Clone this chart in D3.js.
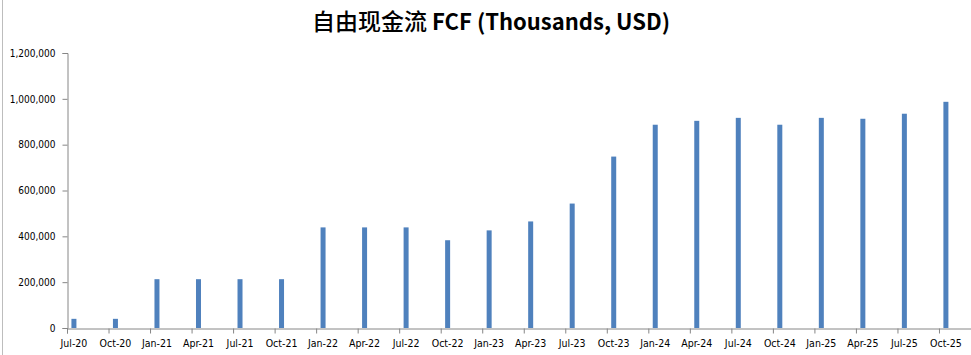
<!DOCTYPE html>
<html>
<head>
<meta charset="utf-8">
<script src="https://cdn.jsdelivr.net/npm/d3@7"></script>
<style>
  html, body { margin: 0; padding: 0; background: #fff; }
  svg { display: block; }
</style>
</head>
<body>
<svg id="chart" width="971" height="355"></svg>
<script>
const categories = ["Jul-20","Oct-20","Jan-21","Apr-21","Jul-21","Oct-21","Jan-22","Apr-22","Jul-22","Oct-22","Jan-23","Apr-23","Jul-23","Oct-23","Jan-24","Apr-24","Jul-24","Oct-24","Jan-25","Apr-25","Jul-25","Oct-25"];
const fcf = [40000,40000,213000,213000,213000,213000,439000,439000,439000,383000,426000,465000,543000,748000,887000,904000,917000,887000,917000,913000,935000,987000];
const yTicks = [0,200000,400000,600000,800000,1000000,1200000];
const titleCN = "自由现金流";
const titleEN = " FCF (Thousands, USD)";

const svg = d3.select("#chart");
const W = 971, H = 355;
const plotLeft = 67, plotRight = 980.5, plotTop = 53, plotBottom = 328;
const monthsPerCat = 3;
const totalMonths = categories.length * monthsPerCat;

// chart area border (left edge visible)
svg.append("line").attr("x1",2.5).attr("x2",2.5).attr("y1",0).attr("y2",H)
  .attr("stroke","#bdbdbd").attr("stroke-width",1);

const x = d3.scaleLinear().domain([0, totalMonths]).range([plotLeft, plotRight]);
const y = d3.scaleLinear().domain([0, 1200000]).range([plotBottom, plotTop]);

const labelFont = "'Liberation Sans Narrow','Arial Narrow','DejaVu Sans Condensed',sans-serif";

// title
const t = svg.append("text")
  .attr("x", 491).attr("y", 30)
  .attr("text-anchor","middle")
  .attr("fill","#000");
t.append("tspan")
  .attr("font-family", "'Noto Sans CJK SC',sans-serif")
  .attr("font-weight", 500)
  .attr("font-size", 23)
  .text(titleCN);
t.append("tspan")
  .attr("font-family", "'Liberation Sans Narrow','Noto Sans CJK SC',sans-serif")
  .attr("font-weight","bold")
  .attr("font-size", 22)
  .text(titleEN);

// bars
svg.append("g").selectAll("rect").data(fcf).join("rect")
  .attr("x", (d,i) => x(i*monthsPerCat + 0.5) - 2.5)
  .attr("width", 5)
  .attr("y", d => y(d))
  .attr("height", d => y(0) - y(d))
  .attr("fill", "#4F81BD");

// y axis
const yAxis = svg.append("g").attr("transform", `translate(${plotLeft+0.5},0)`)
  .call(d3.axisLeft(y).tickValues(yTicks).tickFormat(d3.format(",")).tickSizeOuter(0).tickSize(5).tickPadding(7));
yAxis.select(".domain").attr("stroke","#868686");
yAxis.selectAll(".tick line").attr("stroke","#868686");
yAxis.selectAll("text").attr("font-family", labelFont).attr("font-size", 10).attr("fill","#000");

// x axis ticks
const tickVals = d3.range(0, totalMonths + 1, monthsPerCat);
const xAxis = svg.append("g").attr("transform", `translate(0,${plotBottom+0.5})`)
  .call(d3.axisBottom(x).tickValues(tickVals).tickFormat("").tickSizeOuter(0).tickSize(5));
xAxis.select(".domain").attr("stroke","#868686");
xAxis.selectAll(".tick line").attr("stroke","#868686");

// x labels
svg.append("g").selectAll("text").data(categories).join("text")
  .attr("x", (d,i) => x(i*monthsPerCat + 0.5))
  .attr("y", 347)
  .attr("text-anchor","middle")
  .attr("font-family", labelFont)
  .attr("font-size", 10.5)
  .attr("fill","#000")
  .text(d => d);
</script>
</body>
</html>
